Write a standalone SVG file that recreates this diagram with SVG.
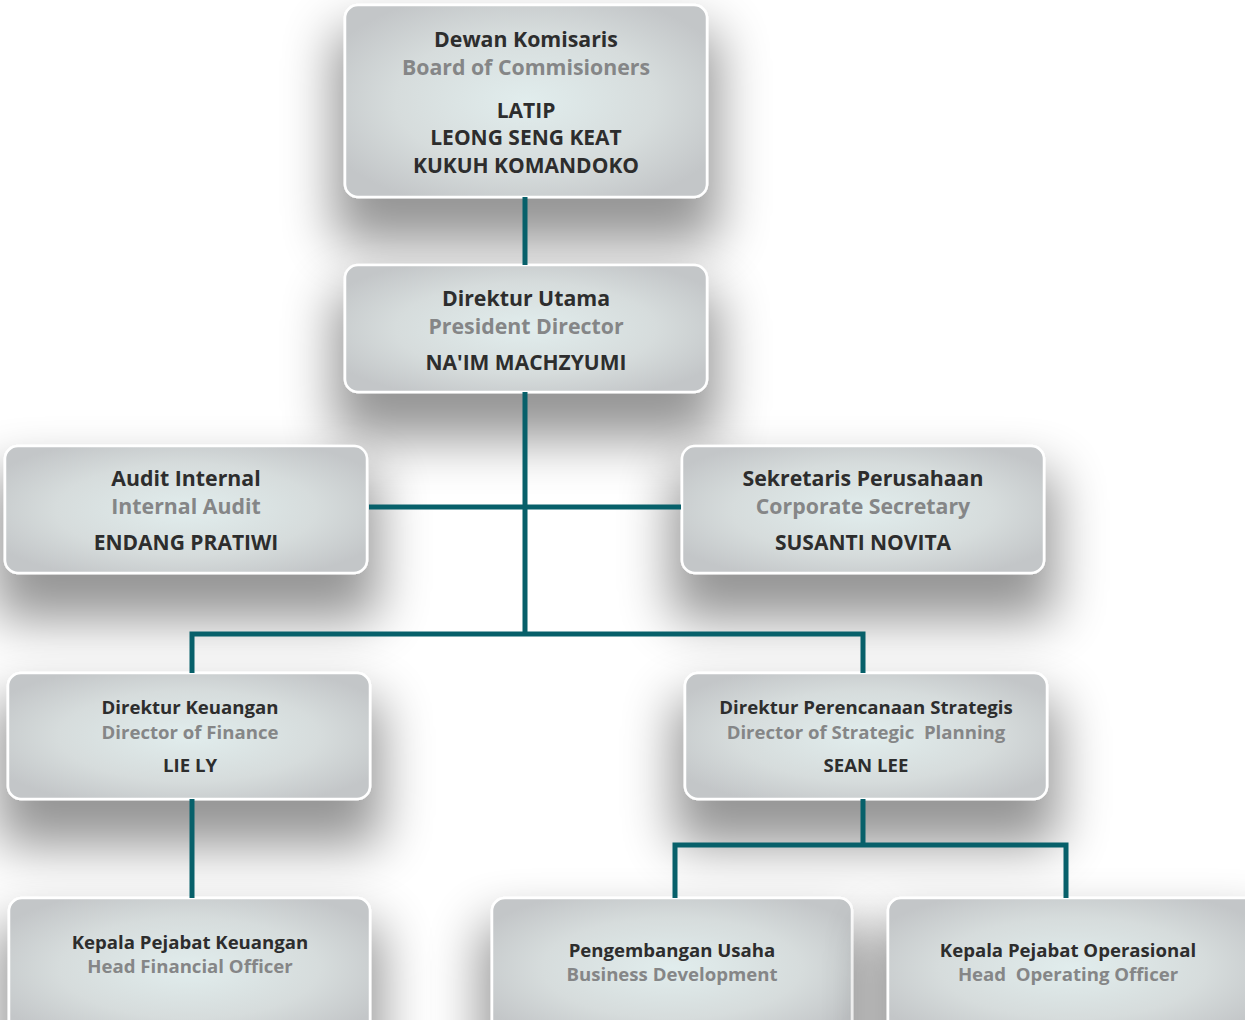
<svg xmlns="http://www.w3.org/2000/svg" width="1245" height="1020" viewBox="0 0 1245 1020">
<defs>
<radialGradient id="bg" cx="50%" cy="50%" r="60%">
<stop offset="0" stop-color="#e1eded"/>
<stop offset="0.6" stop-color="#d6dcdc"/>
<stop offset="1" stop-color="#c3c6c8"/>
</radialGradient>
<filter id="sh" filterUnits="userSpaceOnUse" x="-200" y="-200" width="1645" height="1420">
<feMorphology in="SourceAlpha" operator="dilate" radius="10" result="d"/>
<feGaussianBlur in="d" stdDeviation="26"/>
<feOffset dy="36" result="b"/>
<feComponentTransfer><feFuncA type="linear" slope="0.42"/></feComponentTransfer>
<feMerge><feMergeNode/><feMergeNode in="SourceGraphic"/></feMerge>
</filter>
<style>
.box{fill:url(#bg);stroke:#ffffff;stroke-width:2.5;filter:url(#sh)}
text{font-family:"Open Sans","Noto Sans","Liberation Sans",sans-serif;font-weight:700;text-anchor:middle}
.t{fill:#2d2d2d;font-size:21.3px}
.s{fill:#858687;font-size:21.3px}
.n{fill:#2d2d2d;font-size:21px}
.t2{fill:#2d2d2d;font-size:18.6px}
.s2{fill:#858687;font-size:18.6px}
.n2{fill:#2d2d2d;font-size:18.6px}
.c{stroke:#07606a;stroke-width:5;fill:none}
</style>
</defs>
<rect width="1245" height="1020" fill="#ffffff"/>
<g id="nodes-bg">
<rect class="box" x="345" y="5" width="362" height="192" rx="13"/>
<rect class="box" x="345" y="265" width="362" height="127" rx="13"/>
<rect class="box" x="5" y="446" width="362" height="127" rx="13"/>
<rect class="box" x="682" y="446" width="362" height="127" rx="13"/>
<rect class="box" x="8" y="673" width="362" height="126" rx="13"/>
<rect class="box" x="685" y="673" width="362" height="126" rx="13"/>
<rect class="box" x="9" y="898" width="361" height="140" rx="13"/>
<rect class="box" x="492" y="898" width="360" height="140" rx="13"/>
<rect class="box" x="888" y="898" width="370" height="140" rx="13"/>
</g>
<g id="connectors">
<path class="c" d="M525 197V265"/>
<path class="c" d="M525 392V634"/>
<path class="c" d="M369 507H681"/>
<path class="c" d="M192 673V634H863V673"/>
<path class="c" d="M192 799V898"/>
<path class="c" d="M863 799V845"/>
<path class="c" d="M675 898V845H1066V898"/>
</g>
<g id="dewan-komisaris">
<text class="t" x="526" y="47">Dewan Komisaris</text>
<text class="s" x="526" y="75">Board of Commisioners</text>
<text class="n" x="526" y="118">LATIP</text>
<text class="n" x="526" y="145">LEONG SENG KEAT</text>
<text class="n" x="526" y="173">KUKUH KOMANDOKO</text>
</g>
<g id="direktur-utama">
<text class="t" x="526" y="306">Direktur Utama</text>
<text class="s" x="526" y="334">President Director</text>
<text class="n" x="526" y="370">NA'IM MACHZYUMI</text>
</g>
<g id="audit-internal">
<text class="t" x="186" y="486">Audit Internal</text>
<text class="s" x="186" y="514">Internal Audit</text>
<text class="n" x="186" y="550">ENDANG PRATIWI</text>
</g>
<g id="sekretaris">
<text class="t" x="863" y="486">Sekretaris Perusahaan</text>
<text class="s" x="863" y="514">Corporate Secretary</text>
<text class="n" x="863" y="550">SUSANTI NOVITA</text>
</g>
<g id="direktur-keuangan">
<text class="t2" x="190" y="714">Direktur Keuangan</text>
<text class="s2" x="190" y="739">Director of Finance</text>
<text class="n2" x="190" y="772">LIE LY</text>
</g>
<g id="direktur-perencanaan">
<text class="t2" x="866" y="714">Direktur Perencanaan Strategis</text>
<text class="s2" x="866" y="739" xml:space="preserve">Director of Strategic  Planning</text>
<text class="n2" x="866" y="772">SEAN LEE</text>
</g>
<g id="kepala-keuangan">
<text class="t2" x="190" y="949">Kepala Pejabat Keuangan</text>
<text class="s2" x="190" y="973">Head Financial Officer</text>
</g>
<g id="pengembangan">
<text class="t2" x="672" y="957">Pengembangan Usaha</text>
<text class="s2" x="672" y="981">Business Development</text>
</g>
<g id="operasional">
<text class="t2" x="1068" y="957">Kepala Pejabat Operasional</text>
<text class="s2" x="1068" y="981" xml:space="preserve">Head  Operating Officer</text>
</g>
</svg>
